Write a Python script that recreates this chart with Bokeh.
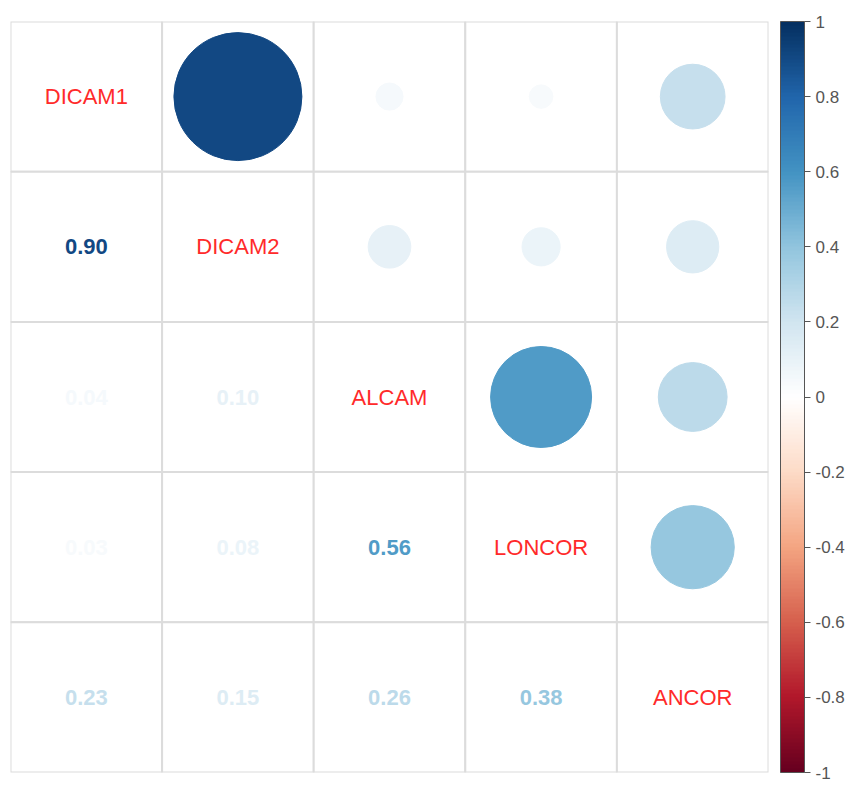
import numpy as np
from bokeh.plotting import figure
from bokeh.models import (ColumnDataSource, LinearColorMapper, ColorBar, FixedTicker,
                          CustomJSTickFormatter, Range1d)
from bokeh.transform import transform
from bokeh.core.properties import value
from bokeh.embed import file_html
from bokeh.resources import INLINE

# ---- data ----
variables = ["DICAM1", "DICAM2", "ALCAM", "LONCOR", "ANCOR"]
corr = [
    [1.00, 0.90, 0.04, 0.03, 0.23],
    [0.90, 1.00, 0.10, 0.08, 0.15],
    [0.04, 0.10, 1.00, 0.56, 0.26],
    [0.03, 0.08, 0.56, 1.00, 0.38],
    [0.23, 0.15, 0.26, 0.38, 1.00],
]
cbar_ticks = [-1, -0.8, -0.6, -0.4, -0.2, 0, 0.2, 0.4, 0.6, 0.8, 1]

# ---- palette (RdBu, 200 steps) ----
anchors = ["#67001F", "#B2182B", "#D6604D", "#F4A582", "#FDDBC7", "#FFFFFF",
           "#D1E5F0", "#92C5DE", "#4393C3", "#2166AC", "#053061"]
def hex2rgb(h):
    h = h.lstrip("#")
    return [int(h[i:i + 2], 16) for i in (0, 2, 4)]
arr = np.array([hex2rgb(a) for a in anchors], dtype=float)
pos = np.linspace(0, 1, len(anchors))
t = np.linspace(0, 1, 200)
palette = []
for tt in t:
    rgb = [np.interp(tt, pos, arr[:, k]) for k in range(3)]
    palette.append("#%02x%02x%02x" % tuple(int(round(c)) for c in rgb))

mapper = LinearColorMapper(palette=palette, low=-1, high=1)

n = len(variables)
cell_x, cell_y = [], []
for i in range(n):
    for j in range(n):
        cell_x.append(j + 0.5)
        cell_y.append(n - i - 0.5)

up = dict(x=[], y=[], r=[], rad=[])
lo = dict(x=[], y=[], r=[], txt=[])
dg = dict(x=[], y=[], txt=[])
for i in range(n):
    for j in range(n):
        x = j + 0.5
        y = n - i - 0.5
        r = corr[i][j]
        if i == j:
            dg["x"].append(x); dg["y"].append(y); dg["txt"].append(variables[i])
        elif j > i:
            up["x"].append(x); up["y"].append(y); up["r"].append(r)
            up["rad"].append(0.445 * np.sqrt(abs(r)))
        else:
            lo["x"].append(x); lo["y"].append(y); lo["r"].append(r)
            lo["txt"].append("%.2f" % r)

p = figure(width=847, height=782, output_backend="svg", toolbar_location=None,
           x_range=Range1d(0, n), y_range=Range1d(0, n),
           min_border_left=10, min_border_top=21, min_border_bottom=10, min_border_right=78)
p.axis.visible = False
p.grid.visible = False
p.outline_line_color = None

p.rect(x=cell_x, y=cell_y, width=1, height=1, fill_color="white",
       line_color="#DCDCDC", line_width=2)

p.circle(x="x", y="y", radius="rad", source=ColumnDataSource(up),
         fill_color=transform("r", mapper), line_color=transform("r", mapper), line_width=1)

p.text(x="x", y="y", text="txt", source=ColumnDataSource(lo),
       text_color=transform("r", mapper), text_align="center", text_baseline="middle",
       text_font=value("Liberation Sans"), text_font_style="bold", text_font_size="22px")

p.text(x="x", y="y", text="txt", source=ColumnDataSource(dg),
       text_color="#FF2A2A", text_align="center", text_baseline="middle",
       text_font=value("Liberation Sans"), text_font_size="22px")

cb = ColorBar(color_mapper=mapper, width=24, height=751, location=(12, 0),
              margin=0, padding=0,
              ticker=FixedTicker(ticks=cbar_ticks),
              formatter=CustomJSTickFormatter(code="return Number(tick.toFixed(1)).toString();"),
              major_tick_in=0, major_tick_out=6, major_tick_line_color="#555555",
              bar_line_color="#555555", bar_line_width=1,
              major_label_text_font="Liberation Sans", major_label_text_font_size="17px",
              major_label_text_color="#555555", label_standoff=5,
              background_fill_alpha=0, border_line_color=None)
p.add_layout(cb, "right")

open("out.html", "w").write(file_html(p, INLINE))
